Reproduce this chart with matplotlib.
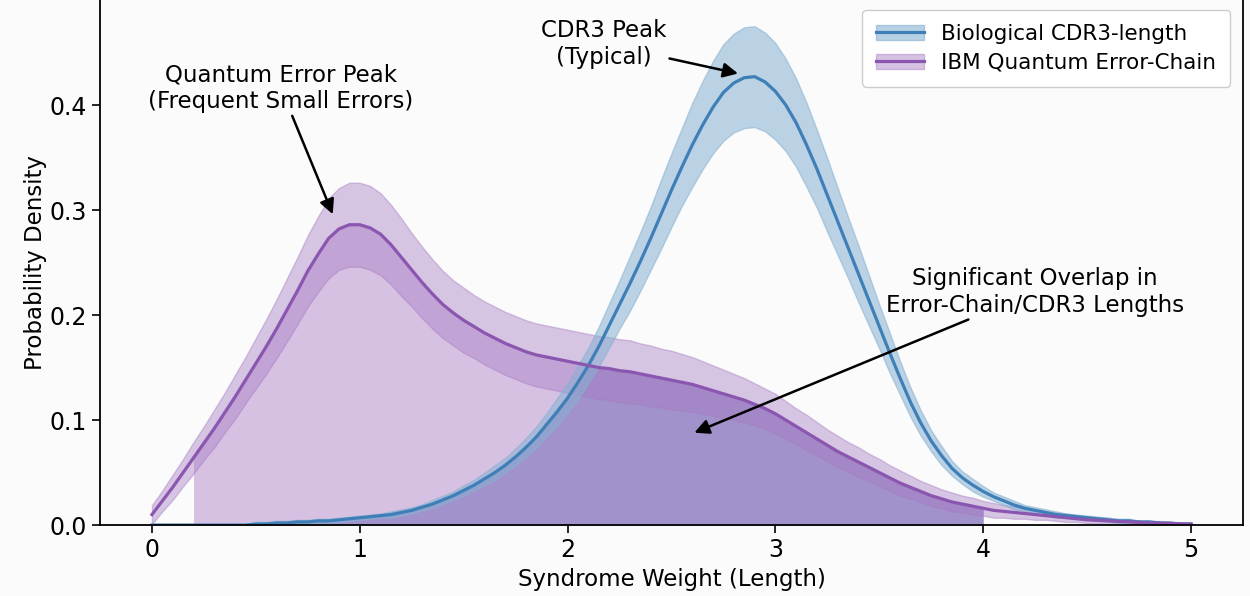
import numpy as np
import matplotlib
matplotlib.use("Agg")
import matplotlib.pyplot as plt
from matplotlib.patches import Patch
from matplotlib.lines import Line2D

# x grid of the curves (syndrome weight), 0.05 steps from 0 to 5
weight = np.round(np.arange(0, 5.001, 0.05), 2)

# IBM quantum error-chain density
quantum = [0.010, 0.023, 0.036, 0.050, 0.064, 0.078, 0.092, 0.107, 0.122, 0.138,
           0.154, 0.170, 0.187, 0.205, 0.223, 0.242, 0.258, 0.273, 0.282, 0.286,
           0.286, 0.283, 0.277, 0.267, 0.255, 0.243, 0.231, 0.220, 0.210, 0.202,
           0.195, 0.189, 0.183, 0.178, 0.173, 0.169, 0.165, 0.162, 0.160, 0.158,
           0.156, 0.154, 0.152, 0.150, 0.149, 0.147, 0.146, 0.144, 0.142, 0.140,
           0.138, 0.136, 0.134, 0.131, 0.128, 0.125, 0.122, 0.119, 0.115, 0.111,
           0.106, 0.100, 0.094, 0.088, 0.082, 0.076, 0.070, 0.065, 0.060, 0.055,
           0.050, 0.045, 0.040, 0.036, 0.032, 0.028, 0.025, 0.022, 0.020, 0.018,
           0.016, 0.014, 0.013, 0.012, 0.011, 0.010, 0.009, 0.008, 0.007, 0.006,
           0.005, 0.0045, 0.004, 0.0035, 0.003, 0.0025, 0.002, 0.0018, 0.0015, 0.0012,
           0.001]
quantum_spread = [0.009, 0.010, 0.012, 0.013, 0.015, 0.016, 0.018, 0.019, 0.021, 0.022,
                  0.024, 0.026, 0.028, 0.030, 0.032, 0.034, 0.036, 0.038, 0.039, 0.040,
                  0.040, 0.040, 0.039, 0.038, 0.037, 0.035, 0.034, 0.033, 0.032, 0.031,
                  0.031, 0.030, 0.030, 0.030, 0.030, 0.030, 0.030, 0.030, 0.030, 0.030,
                  0.030, 0.030, 0.030, 0.030, 0.030, 0.030, 0.030, 0.029, 0.029, 0.028,
                  0.028, 0.027, 0.026, 0.025, 0.024, 0.023, 0.022, 0.021, 0.020, 0.019,
                  0.019, 0.018, 0.017, 0.017, 0.016, 0.015, 0.015, 0.014, 0.014, 0.013,
                  0.013, 0.012, 0.012, 0.011, 0.010, 0.010, 0.009, 0.009, 0.008, 0.008,
                  0.007, 0.007, 0.006, 0.006, 0.005, 0.005, 0.004, 0.004, 0.004, 0.003,
                  0.003, 0.003, 0.003, 0.002, 0.002, 0.002, 0.002, 0.002, 0.001, 0.001,
                  0.001]

# biological CDR3-length density
cdr3 = [0.000, 0.000, 0.000, 0.000, 0.000, 0.000, 0.000, 0.000, 0.000, 0.000,
        0.001, 0.001, 0.002, 0.002, 0.003, 0.003, 0.004, 0.004, 0.005, 0.006,
        0.007, 0.008, 0.009, 0.010, 0.012, 0.014, 0.017, 0.020, 0.024, 0.028,
        0.033, 0.038, 0.044, 0.050, 0.057, 0.065, 0.074, 0.084, 0.096, 0.108,
        0.121, 0.136, 0.152, 0.170, 0.190, 0.210, 0.230, 0.251, 0.273, 0.296,
        0.319, 0.341, 0.362, 0.381, 0.398, 0.412, 0.421, 0.426, 0.427, 0.422,
        0.413, 0.400, 0.383, 0.362, 0.339, 0.314, 0.289, 0.264, 0.239, 0.214,
        0.189, 0.164, 0.140, 0.117, 0.097, 0.080, 0.066, 0.054, 0.045, 0.038,
        0.032, 0.027, 0.023, 0.019, 0.016, 0.014, 0.012, 0.010, 0.009, 0.008,
        0.007, 0.006, 0.005, 0.004, 0.004, 0.003, 0.003, 0.002, 0.002, 0.001,
        0.001]
cdr3_spread = [0.001, 0.001, 0.001, 0.001, 0.001, 0.001, 0.001, 0.001, 0.001, 0.001,
               0.002, 0.002, 0.002, 0.002, 0.002, 0.002, 0.002, 0.002, 0.002, 0.002,
               0.002, 0.002, 0.002, 0.003, 0.003, 0.003, 0.003, 0.004, 0.004, 0.004,
               0.005, 0.005, 0.006, 0.007, 0.007, 0.008, 0.009, 0.010, 0.011, 0.013,
               0.014, 0.016, 0.017, 0.019, 0.021, 0.023, 0.026, 0.028, 0.030, 0.033,
               0.035, 0.037, 0.040, 0.042, 0.044, 0.046, 0.047, 0.048, 0.048, 0.047,
               0.046, 0.044, 0.042, 0.040, 0.037, 0.035, 0.032, 0.029, 0.027, 0.024,
               0.021, 0.019, 0.016, 0.014, 0.012, 0.010, 0.009, 0.007, 0.006, 0.006,
               0.005, 0.004, 0.004, 0.004, 0.003, 0.003, 0.003, 0.003, 0.002, 0.002,
               0.002, 0.002, 0.002, 0.002, 0.002, 0.001, 0.001, 0.001, 0.001, 0.001,
               0.001]

def main():
    x = weight
    q = np.array(quantum)
    qs = np.array(quantum_spread)
    b = np.array(cdr3)
    bs = np.array(cdr3_spread)

    blue = "#3f7fb8"
    purple = "#8a56b0"
    blue_band = "#86b1d2"
    purple_band = "#a57ac3"

    fig = plt.figure(figsize=(12.5, 5.96), dpi=100, facecolor="#fbfbfb")
    ax = fig.add_axes([0.08, 0.119, 0.9144, 0.881])
    ax.set_facecolor("#fbfbfb")

    region = (x >= 0.2) & (x <= 4.0)
    ax.fill_between(x, 0, q, where=region, color="#b589cb", alpha=0.5, lw=0)
    ax.fill_between(x, 0, np.minimum(q, b), where=region, color="#6259b0", alpha=0.45, lw=0)

    ax.fill_between(x, q - qs, q + qs, color=purple_band, alpha=0.42, lw=1, edgecolor=purple_band)
    ax.fill_between(x, b - bs, b + bs, color=blue_band, alpha=0.55, lw=1, edgecolor=blue_band)
    ax.plot(x, b, color=blue, lw=2.3)
    ax.plot(x, q, color=purple, lw=2.3)

    ax.set_xlim(-0.25, 5.25)
    ax.set_ylim(0, 0.5)
    ax.set_xticks([0, 1, 2, 3, 4, 5])
    ax.set_yticks([0.0, 0.1, 0.2, 0.3, 0.4])
    ax.tick_params(labelsize=17, length=6, width=1.2)
    ax.spines["top"].set_visible(False)
    for s in ["left", "right", "bottom"]:
        ax.spines[s].set_linewidth(1.3)
    ax.set_xlabel("Syndrome Weight (Length)", fontsize=16.5, labelpad=4)
    ax.set_ylabel("Probability Density", fontsize=16.5, labelpad=2)

    arrow = dict(arrowstyle="-|>", color="black", lw=1.8, mutation_scale=22, shrinkA=0, shrinkB=0)
    ax.annotate("Quantum Error Peak\n(Frequent Small Errors)", xy=(0.87, 0.296), xytext=(0.62, 0.416),
                ha="center", va="center", fontsize=16.5, arrowprops=arrow)
    ax.annotate("CDR3 Peak\n(Typical)", xy=(2.82, 0.43), xytext=(2.175, 0.458),
                ha="center", va="center", fontsize=16.5, arrowprops=arrow)
    ax.annotate("Significant Overlap in\nError-Chain/CDR3 Lengths", xy=(2.61, 0.088), xytext=(4.25, 0.222),
                ha="center", va="center", fontsize=16.5, arrowprops=arrow)

    handles = [(Patch(facecolor=blue_band, alpha=0.6, edgecolor=blue_band), Line2D([], [], color=blue, lw=2.3)),
               (Patch(facecolor=purple_band, alpha=0.45, edgecolor=purple_band), Line2D([], [], color=purple, lw=2.3))]
    ax.legend(handles, ["Biological CDR3-length", "IBM Quantum Error-Chain"], loc="upper right",
              bbox_to_anchor=(0.9886, 0.981), borderaxespad=0, fontsize=15.5, handlelength=2.2,
              labelspacing=0.4, borderpad=0.65, framealpha=1)

    fig.savefig("out.png", dpi=100, facecolor=fig.get_facecolor())

if __name__ == "__main__":  main()
